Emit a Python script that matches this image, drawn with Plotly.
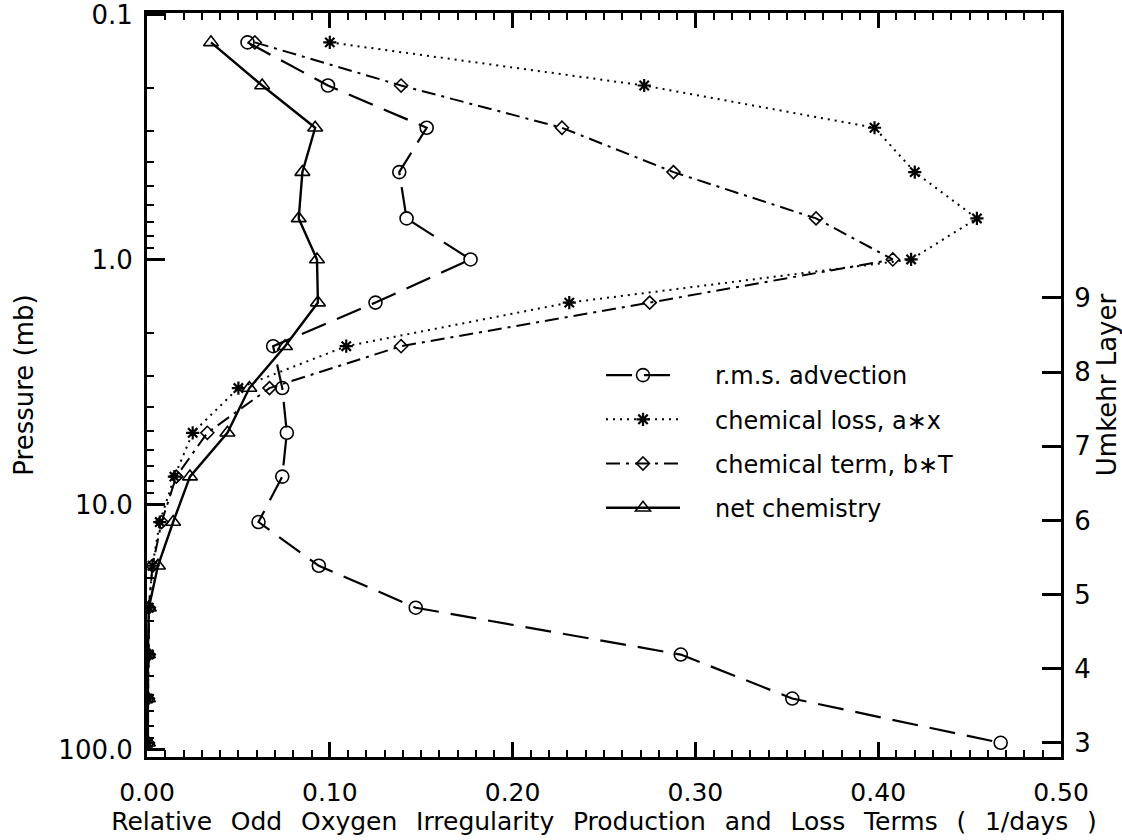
import plotly.graph_objects as go

# Pressure levels (mb)
pressure = [0.13, 0.195, 0.29, 0.44, 0.68, 1.0, 1.5, 2.26, 3.35, 5.1, 7.7, 11.8, 17.8, 26.4, 41, 62, 94]

# Series values (1/days)
advection = [0.055, 0.099, 0.153, 0.138, 0.142, 0.177, 0.125, 0.069, 0.074, 0.0765, 0.074,
             0.061, 0.094, 0.147, 0.292, 0.353, 0.467]
chem_loss = [0.100, 0.272, 0.398, 0.420, 0.454, 0.418, 0.231, 0.109, 0.050, 0.025, 0.015,
             0.007, 0.003, 0.001, 0.001, 0.0005, 0.0005]
chem_term = [0.059, 0.139, 0.227, 0.288, 0.366, 0.408, 0.275, 0.139, 0.067, 0.033, 0.016,
             0.008, 0.003, 0.001, 0.001, 0.0005, 0.0005]
net_chem = [0.035, 0.063, 0.092, 0.085, 0.083, 0.093, 0.0935, 0.0755, 0.056, 0.044, 0.0235,
            0.0143, 0.006, 0.001, 0.0005, 0.0005, 0.0005]

series_names = ["r.m.s. advection", "chemical loss, a\u2217x", "chemical term, b\u2217T", "net chemistry"]

# Axis ticks
x_tick_vals = [0.0, 0.1, 0.2, 0.3, 0.4, 0.5]
p_tick_vals = [0.1, 1, 10, 100]
p_tick_text = ["0.1", "1.0", "10.0", "100.0"]
p_minor_vals = [0.2, 0.3, 0.4, 0.5, 0.6, 0.7, 0.8, 0.9,
                2, 3, 4, 5, 6, 7, 8, 9,
                20, 30, 40, 50, 60, 70, 80, 90]
umkehr_layers = [3, 4, 5, 6, 7, 8, 9]

x_title = "Relative Odd Oxygen Irregularity Production and Loss Terms ( 1/days )"
SP = "\u2002\u2005"
LEGEND_PAD = "\u2003\u2005"

FONT = "DejaVu Sans"

fig = go.Figure()

styles = [
    (advection, dict(dash="26px,12px", width=2.2), dict(symbol="circle-open", size=13, line=dict(width=1.6, color="black"))),
    (chem_loss, dict(dash="2px,5px", width=2.0), dict(symbol="asterisk-open", size=11, line=dict(width=2.2, color="black"))),
    (chem_term, dict(dash="14px,6px,3px,6px", width=2.0), dict(symbol="diamond-open", size=10, line=dict(width=1.6, color="black"))),
    (net_chem, dict(dash="solid", width=2.4), dict(symbol="triangle-up-open", size=13, line=dict(width=1.6, color="black"))),
]

for i, ((vals, ln, mk), name) in enumerate(zip(styles, series_names)):
    fig.add_trace(go.Scatter(
        x=vals, y=pressure, mode="lines+markers", name=LEGEND_PAD + name,
        line=dict(color="black", **ln),
        marker=dict(color="black", **mk),
        legendgroup=f"g{i}",
    ))

# invisible trace to activate the Umkehr layer axis
fig.add_trace(go.Scatter(
    x=[0] * len(umkehr_layers), y=umkehr_layers, yaxis="y2", mode="markers",
    marker=dict(opacity=0, size=1), showlegend=False, hoverinfo="skip",
))

fig.update_layout(
    width=1122, height=840,
    margin=dict(l=147, r=61, t=13, b=83, autoexpand=False),
    plot_bgcolor="white", paper_bgcolor="white",
    font=dict(family=FONT, size=24, color="black"),
    xaxis=dict(
        range=[0, 0.5], tickvals=x_tick_vals, tickformat=".2f",
        ticks="inside", ticklen=15, tickwidth=2.5, tickcolor="black",
        showline=True, linewidth=3, linecolor="black", mirror="ticks",
        showgrid=False, zeroline=False, automargin=False,
        ticklabeloverflow="allow",
        minor=dict(ticks="inside", ticklen=7, tickwidth=2, dtick=0.01, tick0=0, showgrid=False, tickcolor="black"),
        ticklabelstandoff=11,
        title=dict(text=x_title.replace(" ", SP), standoff=6, font=dict(size=25)),
        tickfont=dict(size=25),
    ),
    yaxis=dict(
        type="log", range=[2.031, -1.006],
        tickvals=p_tick_vals, ticktext=p_tick_text,
        ticks="inside", ticklen=18, tickwidth=2.5, tickcolor="black",
        showline=True, linewidth=3, linecolor="black",
        showgrid=False, zeroline=False, automargin=False,
        ticklabeloverflow="allow",
        minor=dict(ticks="inside", ticklen=7, tickwidth=2, tickvals=p_minor_vals, showgrid=False, tickcolor="black"),
        ticklabelstandoff=6,
        title=dict(text="Pressure (mb)", standoff=18, font=dict(size=26)),
        tickfont=dict(size=26),
    ),
    yaxis2=dict(
        overlaying="y", side="right", range=[2.811, 12.842],
        tickvals=umkehr_layers, ticks="inside", ticklen=19, tickwidth=2.5, tickcolor="black",
        showline=True, linewidth=3, linecolor="black",
        showgrid=False, zeroline=False, automargin=False,
        ticklabeloverflow="allow",
        ticklabelstandoff=5,
        title=dict(text="Umkehr Layer", standoff=11, font=dict(size=26)),
        tickfont=dict(size=26),
    ),
    legend=dict(
        x=(601 - 147) / 914, xanchor="left",
        y=1 - (353 - 13) / 744, yanchor="top",
        font=dict(size=24, family=FONT), bgcolor="rgba(0,0,0,0)",
        traceorder="grouped", tracegroupgap=10, itemwidth=74,
    ),
    showlegend=True,
)

fig.write_html("out.html")
